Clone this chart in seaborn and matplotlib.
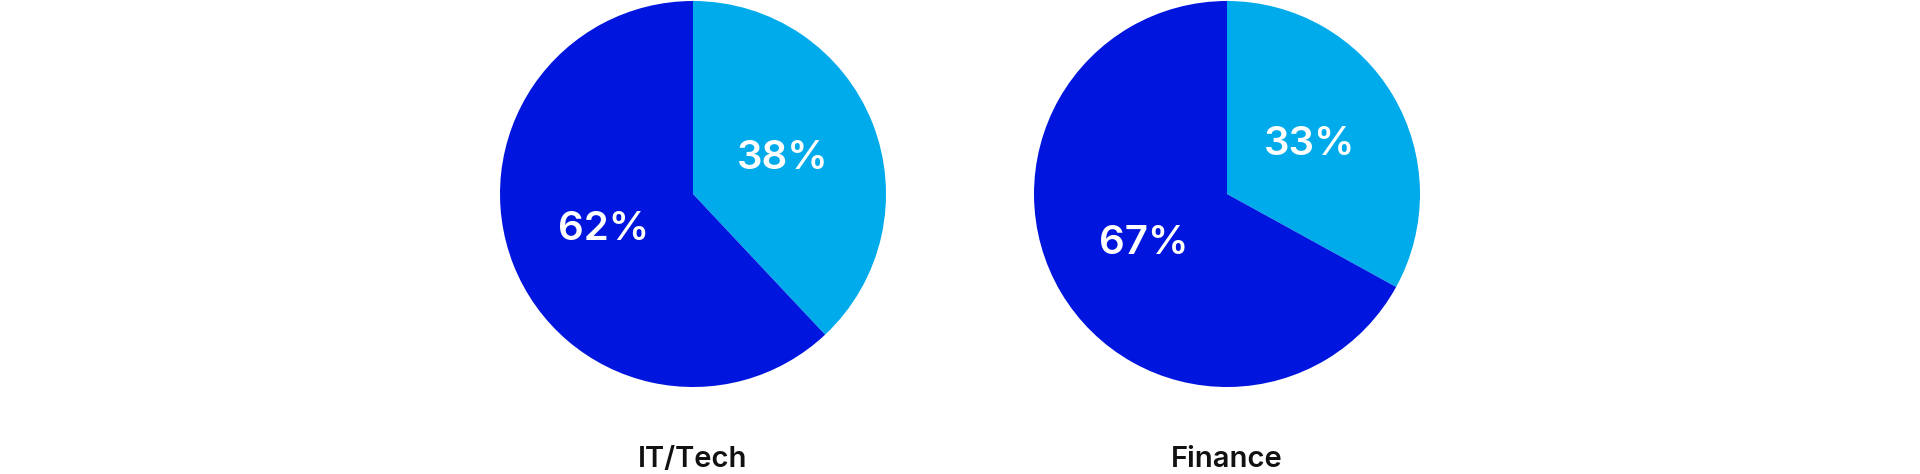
import matplotlib
matplotlib.use("Agg")
import matplotlib.pyplot as plt
import seaborn as sns

# data
sectors = ["IT/Tech", "Finance"]
dark_share = [62, 67]
light_share = [38, 33]

light_blue = "#00ABEC"
dark_blue = "#0016DE"

sns.set_theme(style="white")
plt.rcParams["font.family"] = ["Inter", "DejaVu Sans"]

fig = plt.figure(figsize=(19.2, 4.74), dpi=100)
fig.patch.set_facecolor("white")

# pie centres in pixels (x), radius in pixels
centres_x = [693, 1227]
radius_px = 193
centre_y_px = 194
W, H = 1920, 474

for name, dark, light, cx in zip(sectors, dark_share, light_share, centres_x):
    ax = fig.add_axes([
        (cx - radius_px) / W,
        (H - centre_y_px - radius_px) / H,
        2 * radius_px / W,
        2 * radius_px / H,
    ])
    wedges, texts, autotexts = ax.pie(
        [light, dark],
        colors=[light_blue, dark_blue],
        startangle=90,
        counterclock=False,
        autopct="%d%%",
        pctdistance=0.5,
        radius=1.0,
        wedgeprops=dict(linewidth=0),
        textprops=dict(color="white", fontsize=29, fontweight="semibold"),
    )
    ax.set_xlim(-1, 1)
    ax.set_ylim(-1, 1)
    ax.set_aspect("equal")
    ax.axis("off")
    ax.text(0.5, -0.187, name, transform=ax.transAxes,
            ha="center", va="center", fontsize=21, fontweight="semibold",
            color="#111111")

fig.savefig("out.png", dpi=100, facecolor="white")
